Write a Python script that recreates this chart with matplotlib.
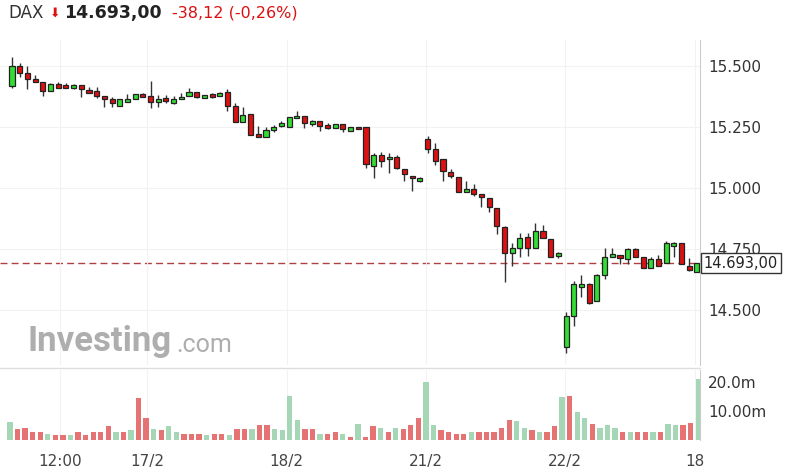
import numpy as np
import matplotlib.pyplot as plt
from matplotlib.patches import Rectangle

# OHLC readings, one candle per slot
opens = [15420, 15502, 15470, 15446, 15436, 15397, 15425, 15421, 15409, 15421,
         15401, 15399, 15379, 15364, 15336, 15352, 15364, 15386, 15379, 15352,
         15368, 15350, 15364, 15377, 15395, 15368, 15386, 15379, 15395, 15338,
         15271, 15304, 15220, 15208, 15238, 15255, 15249, 15286, 15297, 15261,
         15274, 15259, 15245, 15263, 15234, 15252, 15252, 15090, 15135, 15118,
         15129, 15077, 15051, 15029, 15201, 15159, 15118, 15067, 15047, 14984,
         14996, 14976, 14961, 14919, 14842, 14732, 14756, 14801, 14753, 14825,
         14791, 14723, 14350, 14477, 14593, 14607, 14537, 14644, 14719, 14726,
         14708, 14750, 14719, 14671, 14708, 14691, 14764, 14773, 14682, 14655]
highs = [15539, 15511, 15500, 15464, 15436, 15429, 15433, 15432, 15427, 15421,
         15413, 15413, 15379, 15375, 15364, 15384, 15386, 15391, 15439, 15382,
         15382, 15377, 15388, 15409, 15395, 15380, 15391, 15395, 15405, 15347,
         15331, 15304, 15255, 15249, 15259, 15276, 15293, 15316, 15297, 15279,
         15274, 15265, 15263, 15263, 15252, 15252, 15252, 15142, 15149, 15142,
         15135, 15077, 15051, 15044, 15213, 15186, 15118, 15078, 15047, 15029,
         15017, 14976, 14961, 14919, 14844, 14773, 14814, 14814, 14855, 14848,
         14791, 14739, 14491, 14620, 14644, 14610, 14650, 14753, 14753, 14726,
         14756, 14753, 14719, 14719, 14726, 14784, 14780, 14773, 14712, 14692]
lows = [15411, 15457, 15405, 15433, 15379, 15397, 15412, 15409, 15405, 15375,
        15388, 15368, 15334, 15331, 15336, 15352, 15364, 15373, 15327, 15334,
        15347, 15343, 15364, 15377, 15368, 15368, 15368, 15379, 15317, 15271,
        15271, 15218, 15208, 15208, 15231, 15249, 15249, 15286, 15245, 15255,
        15235, 15241, 15245, 15231, 15234, 15241, 15081, 15040, 15088, 15060,
        15077, 15030, 14989, 15026, 15145, 15094, 15030, 15040, 14984, 14984,
        14967, 14924, 14903, 14810, 14616, 14682, 14719, 14723, 14753, 14794,
        14717, 14715, 14325, 14436, 14555, 14524, 14537, 14626, 14719, 14687,
        14687, 14719, 14671, 14671, 14680, 14691, 14719, 14687, 14660, 14655]
closes = [15502, 15470, 15446, 15433, 15399, 15427, 15412, 15409, 15421, 15405,
          15388, 15379, 15365, 15347, 15364, 15364, 15386, 15373, 15352, 15364,
          15358, 15364, 15375, 15395, 15373, 15380, 15372, 15391, 15338, 15271,
          15298, 15218, 15208, 15237, 15252, 15268, 15293, 15297, 15265, 15274,
          15255, 15245, 15263, 15241, 15252, 15241, 15097, 15135, 15112, 15129,
          15081, 15056, 15040, 15040, 15159, 15112, 15071, 15051, 14984, 14996,
          14976, 14962, 14921, 14844, 14732, 14756, 14794, 14753, 14825, 14794,
          14717, 14732, 14477, 14607, 14607, 14530, 14644, 14719, 14730, 14712,
          14750, 14719, 14671, 14708, 14680, 14773, 14773, 14687, 14664, 14692]

# volume in millions, with bar colour (g/r)
volumes = [6.2, 3.9, 4.2, 2.9, 2.6, 2.1, 1.6, 1.6, 1.6, 2.9, 1.6, 2.6, 2.6, 4.7,
           2.9, 2.9, 3.3, 14.4, 7.4, 3.7, 3.4, 4.7, 2.9, 2.1, 2.1, 2.1, 1.6, 2.1,
           2.1, 1.6, 3.9, 3.9, 3.9, 5.3, 5.3, 3.9, 3.4, 15.2, 6.8, 3.9, 3.9, 2.1,
           2.1, 2.9, 2.1, 1.2, 5.6, 1.2, 4.7, 4.2, 2.6, 4.2, 3.9, 5.3, 7.7, 20.0,
           5.3, 3.3, 2.9, 2.1, 2.1, 2.6, 2.6, 2.6, 2.6, 4.2, 6.8, 6.4, 4.2, 3.3,
           2.9, 2.6, 4.7, 14.7, 15.2, 9.5, 7.4, 5.6, 4.2, 5.0, 4.2, 2.9, 2.9, 2.9,
           2.9, 2.9, 2.6, 5.6, 5.0, 5.0, 6.0, 20.8]
vol_dir = ("grrrrgrrgr" "rrrrgrgrrg" "rggrrrgrrg" "rrgrrggggr" "rgrrgrgrrg"
           "rgrrrggrrr" "rgrrrrrggr" "grrgrggrgg" "grgrrgrggr" "rg")

date_ticks = [6.2, 17.6, 35.7, 53.8, 71.9, 88.8]
date_labels = ["12:00", "17/2", "18/2", "21/2", "22/2", "18"]
price_ticks = [14500, 14750, 15000, 15250, 15500]
price_labels = ["14.500", "14.750", "15.000", "15.250", "15.500"]
last_price = 14693

GREEN, RED = "#33dd33", "#dd1111"
W, H = 788, 474
fig = plt.figure(figsize=(7.88, 4.74), dpi=100)

ax = fig.add_axes([0, 1 - 365 / H, 700 / W, (365 - 40) / H])
for i in range(len(opens)):
    o, h, l, c = opens[i], highs[i], lows[i], closes[i]
    col = GREEN if c >= o else RED
    ax.vlines(i, l, h, color="#333333", lw=1, zorder=2)
    ax.add_patch(Rectangle((i - 0.33, min(o, c)), 0.66, max(abs(c - o), 3),
                           facecolor=col, edgecolor="#222222", lw=0.9, zorder=3))
ax.set_xlim(-1.56, 89.4)
ax.set_ylim(14275, 15607)
ax.axhline(last_price, color="#b04040", lw=1, ls=(0, (5, 3)), zorder=1)
ax.set_xticks(date_ticks)
ax.set_yticks(price_ticks)
ax.grid(True, color="#f2f2f2", lw=0.8)
ax.tick_params(length=0, labelbottom=False, labelright=True, labelleft=False,
               labelsize=11, labelcolor="#333333", pad=6)
ax.yaxis.tick_right()
ax.set_yticklabels(price_labels)
for s in ["top", "left", "bottom"]:
    ax.spines[s].set_visible(False)
ax.spines["right"].set_color("#cccccc")
ax.text(1.005, last_price, "14.693,00", transform=ax.get_yaxis_transform(),
        va="center", ha="left", fontsize=10.5, color="#222222",
        bbox=dict(boxstyle="square,pad=0.2", fc="white", ec="#333333", lw=1))
ax.text(28 / 700, 0.02, "Investing", transform=ax.transAxes, fontsize=25,
        fontweight="bold", color="#9a9a9a", alpha=0.8, va="bottom", family="Roboto")
ax.text(176 / 700, 0.025, ".com", transform=ax.transAxes, fontsize=18,
        color="#9a9a9a", alpha=0.8, va="bottom", family="Roboto")

vax = fig.add_axes([0, 1 - 440 / H, 700 / W, (440 - 370) / H])
vcols = ["#a5d6b5" if d == "g" else "#e57373" for d in vol_dir]
vax.bar(range(len(volumes)), volumes, width=0.7, color=vcols)
vax.set_xlim(-10 / 7.58, 690 / 7.58 + 0.2)
vax.set_ylim(0, 24)
vax.set_yticks([10, 20])
vax.set_yticklabels(["10.00m", "20.0m"])
vax.yaxis.tick_right()
vax.tick_params(length=0, labelsize=11, labelcolor="#333333", pad=6)
vax.set_xticks([])
for s in ["top", "left", "bottom"]:
    vax.spines[s].set_visible(False)
vax.spines["right"].set_color("#cccccc")
fig.add_artist(plt.Line2D([0, 700 / W], [1 - 368 / H] * 2, color="#dddddd", lw=1))

# date labels share the candle x scale
lax = fig.add_axes([0, 1 - 440 / H, 700 / W, 0.001])
lax.set_xlim(-1.56, 89.4)
lax.set_xticks(date_ticks)
lax.set_xticklabels(date_labels)
lax.set_yticks([])
lax.tick_params(length=0, labelsize=11, labelcolor="#444444", pad=10)
for s in lax.spines.values():
    s.set_visible(False)
for t in date_ticks:
    vax.axvline((t * 7.71 + 12 - 10) / 7.58, color="#f2f2f2", lw=0.8, zorder=0)

fig.text(8 / W, 1 - 13 / H, "DAX", fontsize=12, color="#333333", va="center")
fig.text(50 / W, 1 - 13 / H, "\u2b07", fontsize=9, color=RED, va="center")
fig.text(64 / W, 1 - 13 / H, "14.693,00", fontsize=12.5, fontweight="bold",
         color="#222222", va="center")
fig.text(172 / W, 1 - 13 / H, "-38,12 (-0,26%)", fontsize=11.5, color=RED, va="center")

fig.savefig("out.png", dpi=100, facecolor="white")
